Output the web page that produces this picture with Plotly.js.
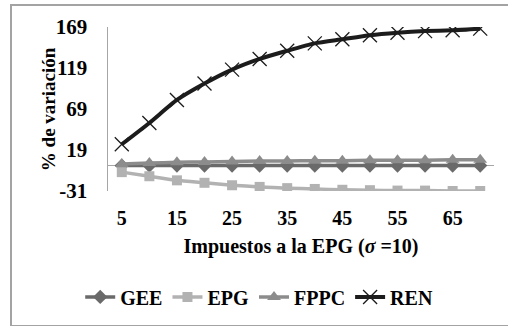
<!DOCTYPE html>
<html>
<head>
<meta charset="utf-8">
<script src="https://cdn.plot.ly/plotly-3.0.1.min.js"></script>
<style>
html,body{margin:0;padding:0;background:#fff;overflow:hidden;}
#wrap{position:relative;width:508px;height:326px;overflow:hidden;}
#chart{position:absolute;left:0;top:0;width:508px;height:326px;}
#frame{position:absolute;left:10px;top:4px;width:520px;height:319px;border:2px solid #a3a3a3;pointer-events:none;}
</style>
</head>
<body>
<div id="wrap"><div id="frame"></div><div id="chart"></div></div>
<script>
const impuestos = [5,10,15,20,25,30,35,40,45,50,55,60,65,70];
const GEE  = [0,0,0,0,0,0,0,0,0,0,0,0,0,0];
const EPG  = [-8,-13,-18,-21,-24,-26,-27.5,-28.5,-29.5,-30,-30.5,-30.5,-31,-31];
const FPPC = [2,3,4,4.5,5,5.5,5.5,6,6,6.5,6.5,6.5,7,7];
const REN  = [26,52,80,100,117,130,140,149,154,159,162,164,165,167];
const xTicks = [5,15,25,35,45,55,65];
const yTicks = [-31,19,69,119,169];

const F = 'Liberation Serif, Times New Roman, serif';
const traces = [
  {x:impuestos,y:GEE,name:'GEE',mode:'lines+markers',line:{color:'#6a6a6a',width:3.5,shape:'spline',smoothing:0.5},
   marker:{symbol:'diamond',size:11,color:'#6a6a6a'}},
  {x:impuestos,y:EPG,name:'EPG',mode:'lines+markers',line:{color:'#b2b2b2',width:3.5,shape:'spline',smoothing:0.5},
   marker:{symbol:'square',size:10,color:'#b2b2b2'}},
  {x:impuestos,y:FPPC,name:'FPPC',mode:'lines+markers',line:{color:'#8c8c8c',width:3.5,shape:'spline',smoothing:0.5},
   marker:{symbol:'triangle-up',size:12,color:'#8c8c8c'}},
  {x:impuestos,y:REN,name:'REN',mode:'lines+markers',line:{color:'#1c1c1c',width:4,shape:'spline',smoothing:0.6},
   marker:{symbol:'x-thin-open',size:14,color:'#1c1c1c',line:{color:'#1c1c1c',width:1.3}}}
];
const layout = {
  width:508,height:326,
  margin:{l:108,r:14,t:27,b:134},
  paper_bgcolor:'rgba(0,0,0,0)',plot_bgcolor:'rgba(0,0,0,0)',
  font:{family:F,size:20,color:'#000'},
  showlegend:true,
  legend:{orientation:'h',x:-0.072,xanchor:'left',y:-0.636,yanchor:'middle',
    font:{family:F,size:20,color:'#000',weight:'bold'},itemwidth:30,tracegroupgap:0},
  xaxis:{range:[2.5,72.5],tickvals:xTicks,ticktext:xTicks.map(v=>'<b>'+v+'</b>'),
    showgrid:false,zeroline:false,showline:false,
    ticks:'outside',ticklen:9,tickcolor:'rgba(0,0,0,0)',
    tickfont:{family:F,size:20,color:'#000'},
    title:{text:'<b>Impuestos a la EPG (<i>σ</i> =10)</b>',font:{family:F,size:20,color:'#000'},standoff:10}},
  yaxis:{range:[-31,169],tickvals:yTicks,ticktext:yTicks.map(v=>'<b>'+v+'</b>'),
    showgrid:false,zeroline:true,zerolinecolor:'#a6a6a6',zerolinewidth:1.5,
    showline:true,linecolor:'#a6a6a6',linewidth:1.5,
    ticks:'outside',ticklen:15,tickcolor:'rgba(0,0,0,0)',
    tickfont:{family:F,size:21,color:'#000'}},
  annotations:[{text:'<b>% de variación</b>',xref:'paper',yref:'paper',x:-0.155,y:0.5,
    xanchor:'center',yanchor:'middle',textangle:-90,showarrow:false,
    font:{family:F,size:19,color:'#000'}}]
};
Plotly.newPlot('chart',traces,layout,{displayModeBar:false,staticPlot:true});
</script>
</body>
</html>
